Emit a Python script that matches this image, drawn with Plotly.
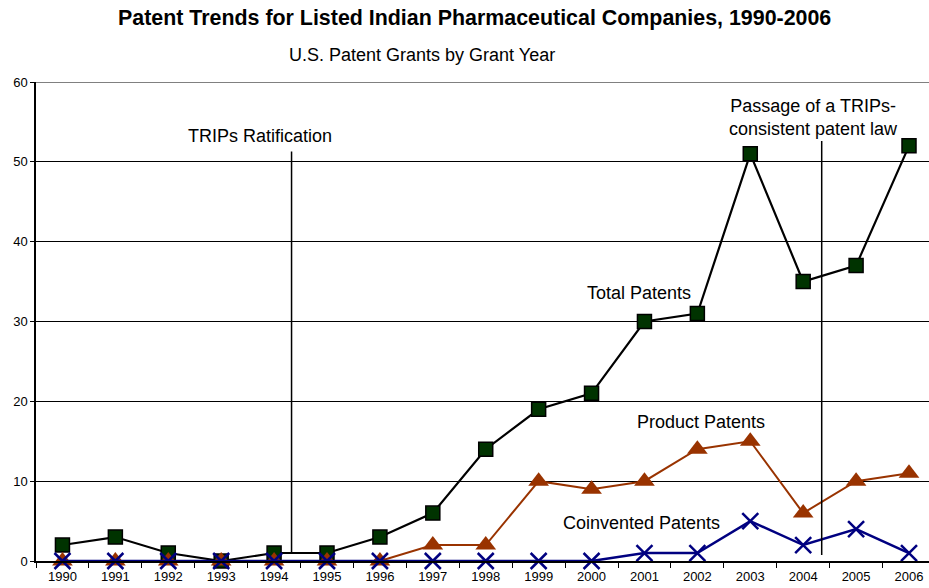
import plotly.graph_objects as go

years = [str(y) for y in range(1990, 2007)]
total_patents = [2, 3, 1, 0, 1, 1, 3, 6, 14, 19, 21, 30, 31, 51, 35, 37, 52]
product_patents = [0, 0, 0, 0, 0, 0, 0, 2, 2, 10, 9, 10, 14, 15, 6, 10, 11]
coinvented_patents = [0, 0, 0, 0, 0, 0, 0, 0, 0, 0, 0, 1, 1, 5, 2, 4, 1]
y_ticks = [0, 10, 20, 30, 40, 50, 60]

FONT = "Arial, 'Liberation Sans', sans-serif"

fig = go.Figure()
fig.add_trace(go.Scatter(
    x=years, y=total_patents, mode="lines+markers", name="Total Patents",
    line=dict(color="black", width=2.2),
    marker=dict(symbol="square", size=14, color="#003300", line=dict(color="black", width=1.5)),
    cliponaxis=False))
fig.add_trace(go.Scatter(
    x=years, y=product_patents, mode="lines+markers", name="Product Patents",
    line=dict(color="#993300", width=2),
    marker=dict(symbol="triangle-up", size=18, color="#993300", line=dict(color="#993300", width=0)),
    cliponaxis=False))
fig.add_trace(go.Scatter(
    x=years, y=coinvented_patents, mode="lines+markers", name="Coinvented Patents",
    line=dict(color="#000080", width=2.5),
    marker=dict(symbol="x-thin", size=16, color="#000080", line=dict(color="#000080", width=2.5)),
    cliponaxis=False))

# Top gridline at 60
fig.add_shape(type="line", xref="paper", yref="y", x0=0, x1=1, y0=60, y1=60,
              line=dict(color="#808080", width=2), layer="below")

# Vertical event lines (x in category index units)
fig.add_shape(type="line", xref="x", yref="y", x0=4.33, x1=4.33, y0=1, y1=51.3,
              line=dict(color="black", width=1.5))
fig.add_shape(type="line", xref="x", yref="y", x0=14.35, x1=14.35, y0=0.75, y1=52.6,
              line=dict(color="black", width=1.5))

ann = dict(showarrow=False, font=dict(family=FONT, size=18, color="black"), xref="x", yref="y")
fig.add_annotation(x=3.74, y=53.2, text="TRIPs Ratification", **ann)
fig.add_annotation(x=14.2, y=55.6, text="Passage of a TRIPs-<br>consistent patent law", **ann)
fig.add_annotation(x=10.9, y=33.6, text="Total Patents", **ann)
fig.add_annotation(x=12.07, y=17.4, text="Product Patents", **ann)
fig.add_annotation(x=10.95, y=4.7, text="Coinvented Patents", **ann)

fig.add_annotation(xref="paper", yref="paper", x=(474 - 36) / 893, xanchor="center",
                   y=(561 - 18) / 479, yanchor="middle",
                   text="<b>Patent Trends for Listed Indian Pharmaceutical Companies, 1990-2006</b>",
                   showarrow=False, font=dict(family=FONT, size=21.4, color="black"))
fig.add_annotation(xref="paper", yref="paper", x=(422 - 36) / 893, xanchor="center",
                   y=(561 - 55) / 479, yanchor="middle",
                   text="U.S. Patent Grants by Grant Year",
                   showarrow=False, font=dict(family=FONT, size=18, color="black"))

fig.update_layout(
    width=929, height=588,
    margin=dict(l=36, r=0, t=82, b=27),
    paper_bgcolor="white", plot_bgcolor="white",
    showlegend=False,
    font=dict(family=FONT, size=13, color="black"),
    xaxis=dict(type="category", range=[-0.5, 16.378], showgrid=False,
               ticks="outside", tickson="boundaries", ticklen=5, tickcolor="black",
               ticklabelstandoff=3,
               showline=True, linecolor="black", linewidth=1.5,
               tickfont=dict(family=FONT, size=13, color="black"), zeroline=False),
    yaxis=dict(range=[0, 60], tickvals=y_ticks, showgrid=True, gridcolor="black", gridwidth=1,
               ticks="outside", ticklen=4, tickcolor="black",
               showline=True, linecolor="black", linewidth=1.5, zeroline=False,
               tickfont=dict(family=FONT, size=13, color="black")),
)

fig.write_html("out.html")
